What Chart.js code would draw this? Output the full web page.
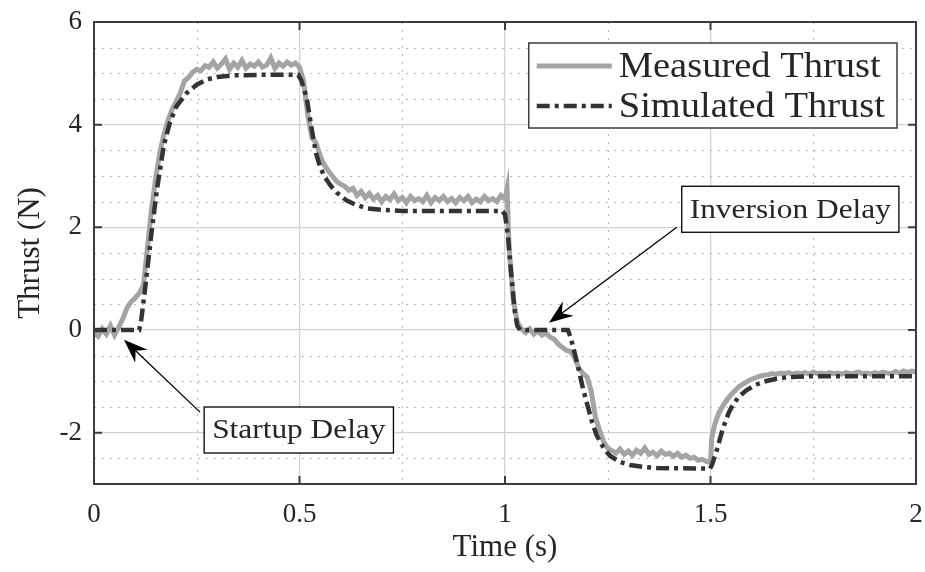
<!DOCTYPE html>
<html lang="en">
<head>
  <meta charset="UTF-8">
  <title>Thrust response</title>
  <script src="https://cdn.jsdelivr.net/npm/chart.js"></script>
  <style>
    html, body { margin: 0; padding: 0; background: #fff; }
    .chart-container { width: 925px; height: 572px; }
  </style>
</head>
<body>
  <div class="chart-container">
    <canvas id="chartCanvas" width="925" height="572"></canvas>
  </div>

  <script>
    // measured thrust (load cell), seconds / newtons
    const measTime = [
      0.00, 0.01, 0.02, 0.03, 0.04, 0.05, 0.06, 0.07, 0.08, 0.09,
      0.10, 0.11, 0.12, 0.13, 0.14, 0.15, 0.16, 0.17, 0.18, 0.19,
      0.20, 0.21, 0.22, 0.23, 0.24, 0.25, 0.26, 0.27, 0.28, 0.29,
      0.30, 0.31, 0.32, 0.33, 0.34, 0.35, 0.36, 0.37, 0.38, 0.39,
      0.40, 0.41, 0.42, 0.43, 0.44, 0.45, 0.46, 0.47, 0.48, 0.49,
      0.50, 0.51, 0.52, 0.53, 0.54, 0.55, 0.56, 0.57, 0.58, 0.59,
      0.60, 0.61, 0.62, 0.63, 0.64, 0.65, 0.66, 0.67, 0.68, 0.69,
      0.70, 0.71, 0.72, 0.73, 0.74, 0.75, 0.76, 0.77, 0.78, 0.79,
      0.80, 0.81, 0.82, 0.83, 0.84, 0.85, 0.86, 0.87, 0.88, 0.89,
      0.90, 0.91, 0.92, 0.93, 0.94, 0.95, 0.96, 0.97, 0.98, 0.99,
      1.00, 1.005, 1.01, 1.02, 1.03, 1.04, 1.05, 1.06, 1.07, 1.08, 1.09,
      1.10, 1.11, 1.12, 1.13, 1.14, 1.15, 1.16, 1.17, 1.18, 1.19,
      1.20, 1.21, 1.22, 1.23, 1.24, 1.25, 1.26, 1.27, 1.28, 1.29,
      1.30, 1.31, 1.32, 1.33, 1.34, 1.35, 1.36, 1.37, 1.38, 1.39,
      1.40, 1.41, 1.42, 1.43, 1.44, 1.45, 1.46, 1.47, 1.48, 1.49,
      1.50, 1.503, 1.51, 1.52, 1.53, 1.54, 1.55, 1.56, 1.57, 1.58, 1.59,
      1.60, 1.61, 1.62, 1.63, 1.64, 1.65, 1.66, 1.67, 1.68, 1.69,
      1.70, 1.71, 1.72, 1.73, 1.74, 1.75, 1.76, 1.77, 1.78, 1.79,
      1.80, 1.81, 1.82, 1.83, 1.84, 1.85, 1.86, 1.87, 1.88, 1.89,
      1.90, 1.91, 1.92, 1.93, 1.94, 1.95, 1.96, 1.97, 1.98, 1.99,
      2.00
    ];
    const measThrust = [
      -0.05, -0.12, 0.02, -0.08, 0.08, -0.10, 0.05, 0.22, 0.42, 0.55,
      0.62, 0.72, 0.86, 1.60, 2.35, 2.95, 3.45, 3.80, 4.08, 4.30,
      4.45, 4.62, 4.85, 4.92, 5.02, 5.08, 5.05, 5.15, 5.12, 5.22,
      5.10, 5.18, 5.28, 5.08, 5.20, 5.12, 5.25, 5.10, 5.18, 5.14,
      5.22, 5.12, 5.16, 5.30, 5.10, 5.20, 5.14, 5.22, 5.16, 5.20,
      5.12, 4.85, 4.20, 3.75, 3.65, 3.40, 3.22, 3.10, 3.00, 2.90,
      2.84, 2.80, 2.72, 2.76, 2.62, 2.70, 2.58, 2.66, 2.55, 2.62,
      2.50, 2.60, 2.54, 2.65, 2.52, 2.58, 2.48, 2.60, 2.52, 2.56,
      2.50, 2.62, 2.48, 2.58, 2.52, 2.60, 2.50, 2.56, 2.48, 2.58,
      2.52, 2.60, 2.48, 2.55, 2.50, 2.60, 2.52, 2.56, 2.50, 2.62,
      2.55, 2.75, 1.60, 0.60, 0.15, 0.02, -0.05, 0.02, -0.08, -0.02, -0.10,
      -0.06, -0.14, -0.18, -0.28, -0.34, -0.40, -0.42, -0.55, -0.75, -0.85,
      -0.92, -1.20, -1.70, -1.95, -2.18, -2.30, -2.35, -2.40, -2.32, -2.42,
      -2.36, -2.44, -2.34, -2.40, -2.30, -2.42, -2.38, -2.45, -2.36, -2.42,
      -2.40, -2.46, -2.40, -2.48, -2.44, -2.50, -2.48, -2.54, -2.52, -2.56,
      -2.58, -2.10, -1.85, -1.62, -1.48, -1.36, -1.26, -1.18, -1.10, -1.05, -1.00,
      -0.96, -0.93, -0.90, -0.88, -0.87, -0.85, -0.86, -0.84, -0.85, -0.83,
      -0.86, -0.84, -0.85, -0.83, -0.86, -0.82, -0.85, -0.84, -0.86, -0.83,
      -0.85, -0.84, -0.86, -0.83, -0.85, -0.84, -0.82, -0.85, -0.84, -0.86,
      -0.83, -0.85, -0.82, -0.84, -0.85, -0.81, -0.84, -0.80, -0.83, -0.80,
      -0.82
    ];

    // simulated thrust from the motor model
    const simTime = [
      0, 0.11, 0.115, 0.124, 0.14, 0.153, 0.17, 0.185, 0.2, 0.226,
      0.25, 0.275, 0.3, 0.34, 0.4, 0.497, 0.505, 0.518, 0.53, 0.54,
      0.55, 0.56, 0.574, 0.59, 0.615, 0.64, 0.664, 0.7, 0.75, 0.993,
      1.0, 1.007, 1.015, 1.024, 1.03, 1.037, 1.153, 1.16, 1.175, 1.19,
      1.2, 1.212, 1.223, 1.24, 1.255, 1.28, 1.304, 1.34, 1.37, 1.499,
      1.504, 1.516, 1.53, 1.545, 1.555, 1.57, 1.588, 1.61, 1.628, 1.66,
      1.686, 1.75, 2.0
    ];
    const simThrust = [
      0, 0, 0.2, 0.78, 1.9, 2.73, 3.6, 4.05, 4.35, 4.62,
      4.78, 4.88, 4.93, 4.96, 4.97, 4.97, 4.85, 4.5, 3.9, 3.45,
      3.18, 3.0, 2.83, 2.68, 2.52, 2.43, 2.37, 2.34, 2.32, 2.32,
      2.25, 1.85, 1.1, 0.35, 0.08, 0, 0, -0.15, -0.62, -1.15,
      -1.45, -1.8, -2.05, -2.3, -2.45, -2.57, -2.63, -2.67, -2.69, -2.7,
      -2.62, -2.32, -1.92, -1.6, -1.45, -1.29, -1.17, -1.07, -1.01, -0.95,
      -0.92, -0.9, -0.9
    ];

    const xTicks = [0, 0.5, 1, 1.5, 2];
    const yTicks = [-2, 0, 2, 4, 6];
    const xMinor = [0.25, 0.75, 1.25, 1.75];
    const yMinor = [-2.5, -1.5, -1, -0.5, 0.5, 1, 1.5, 2.5, 3, 3.5, 4.5, 5, 5.5];

    const seriesNames = ['Measured Thrust', 'Simulated Thrust'];

    // callouts: label, box top-left, arrow tail and tip (data units)
    const notes = [
      { text: 'Startup Delay', box: [0.268, -1.50], tail: [0.258, -1.60], tip: [0.073, -0.19] },
      { text: 'Inversion Delay', box: [1.430, 2.80], tail: [1.418, 2.00], tip: [1.107, 0.14] }
    ];

    const serif = "'Liberation Serif', 'Times New Roman', serif";
    const inkColor = '#262626';
    const axisColor = '#3c3c3c';

    Chart.defaults.font.family = serif;
    Chart.defaults.color = inkColor;

    const toXY = (xs, ys) => xs.map((x, i) => ({ x: x, y: ys[i] }));

    // text a little wider than the plain font, closer to the LaTeX look
    function wideText(ctx, text, x, y, sx) {
      ctx.save();
      ctx.translate(x, y);
      ctx.scale(sx, 1);
      ctx.fillText(text, 0, 0);
      ctx.restore();
      return ctx.measureText(text).width * sx;
    }

    function drawArrow(ctx, tail, tip) {
      const dx = tail[0] - tip[0], dy = tail[1] - tip[1];
      const len = Math.hypot(dx, dy);
      const ux = dx / len, uy = dy / len;
      const nx = -uy, ny = ux;
      const L = 24, W = 9, notch = 8;
      ctx.strokeStyle = '#000';
      ctx.lineWidth = 1.3;
      ctx.beginPath();
      ctx.moveTo(tail[0], tail[1]);
      ctx.lineTo(tip[0] + ux * (L - notch), tip[1] + uy * (L - notch));
      ctx.stroke();
      ctx.fillStyle = '#000';
      ctx.beginPath();
      ctx.moveTo(tip[0], tip[1]);
      ctx.lineTo(tip[0] + ux * L + nx * W, tip[1] + uy * L + ny * W);
      ctx.lineTo(tip[0] + ux * (L - notch), tip[1] + uy * (L - notch));
      ctx.lineTo(tip[0] + ux * L - nx * W, tip[1] + uy * L - ny * W);
      ctx.closePath();
      ctx.fill();
    }

    const axesDecor = {
      id: 'axesDecor',
      beforeDatasetsDraw(chart) {
        const { ctx, chartArea: a, scales: { x, y } } = chart;
        ctx.save();
        ctx.strokeStyle = '#b8b8b8';
        ctx.lineWidth = 1;
        ctx.setLineDash([2, 6]);
        xMinor.forEach(v => {
          const px = Math.round(x.getPixelForValue(v)) + 0.5;
          ctx.beginPath(); ctx.moveTo(px, a.top); ctx.lineTo(px, a.bottom); ctx.stroke();
        });
        yMinor.forEach(v => {
          const py = Math.round(y.getPixelForValue(v)) + 0.5;
          ctx.beginPath(); ctx.moveTo(a.left, py); ctx.lineTo(a.right, py); ctx.stroke();
        });
        ctx.restore();
      },
      afterDraw(chart) {
        const { ctx, chartArea: a, scales: { x, y } } = chart;
        ctx.save();

        // box and inward ticks
        ctx.strokeStyle = axisColor;
        ctx.lineWidth = 2;
        ctx.strokeRect(a.left, a.top, a.right - a.left, a.bottom - a.top);
        const tl = 8;
        ctx.beginPath();
        xTicks.forEach(v => {
          const px = x.getPixelForValue(v);
          ctx.moveTo(px, a.bottom); ctx.lineTo(px, a.bottom - tl);
          ctx.moveTo(px, a.top); ctx.lineTo(px, a.top + tl);
        });
        yTicks.forEach(v => {
          const py = y.getPixelForValue(v);
          ctx.moveTo(a.left, py); ctx.lineTo(a.left + tl, py);
          ctx.moveTo(a.right, py); ctx.lineTo(a.right - tl, py);
        });
        ctx.stroke();

        // callouts
        ctx.font = '28px ' + serif;
        ctx.textBaseline = 'middle';
        notes.forEach(n => {
          const bx = x.getPixelForValue(n.box[0]);
          const by = y.getPixelForValue(n.box[1]);
          const w = ctx.measureText(n.text).width * 1.12 + 16;
          const h = 46;
          drawArrow(ctx,
            [x.getPixelForValue(n.tail[0]), y.getPixelForValue(n.tail[1])],
            [x.getPixelForValue(n.tip[0]), y.getPixelForValue(n.tip[1])]);
          ctx.fillStyle = '#fff';
          ctx.fillRect(bx, by, w, h);
          ctx.strokeStyle = '#000';
          ctx.lineWidth = 1.3;
          ctx.strokeRect(bx, by, w, h);
          ctx.fillStyle = inkColor;
          wideText(ctx, n.text, bx + 8, by + h / 2 + 1, 1.12);
        });

        // legend, top right inside the axes
        ctx.font = '35px ' + serif;
        const sx = 1.1;
        const textW = Math.max(...seriesNames.map(s => ctx.measureText(s).width)) * sx;
        const lw = 8 + 75 + 7 + textW + 12;
        const lh = 85;
        const lx = a.right - 19 - lw;
        const ly = a.top + 21;
        ctx.fillStyle = '#fff';
        ctx.fillRect(lx, ly, lw, lh);
        ctx.strokeStyle = axisColor;
        ctx.lineWidth = 1.5;
        ctx.strokeRect(lx, ly, lw, lh);
        chart.data.datasets.forEach((ds, i) => {
          const cy = ly + 23 + i * 40;
          ctx.save();
          ctx.strokeStyle = ds.borderColor;
          ctx.lineWidth = ds.borderWidth;
          ctx.setLineDash(ds.borderDash || []);
          ctx.beginPath();
          ctx.moveTo(lx + 8, cy); ctx.lineTo(lx + 83, cy);
          ctx.stroke();
          ctx.restore();
          ctx.fillStyle = inkColor;
          wideText(ctx, ds.label, lx + 90, cy + 2, sx);
        });
        ctx.restore();
      }
    };

    const tickFont = { family: serif, size: 27 };
    const titleFont = { family: serif, size: 31 };

    const ctx = document.getElementById('chartCanvas').getContext('2d');
    const chart = new Chart(ctx, {
      type: 'line',
      data: {
        datasets: [{
          label: seriesNames[0],
          data: toXY(measTime, measThrust),
          borderColor: '#a4a4a4',
          borderWidth: 5,
          pointRadius: 0,
          tension: 0,
          fill: false,
          order: 1
        }, {
          label: seriesNames[1],
          data: toXY(simTime, simThrust),
          borderColor: '#333333',
          borderWidth: 4.5,
          borderDash: [13, 5, 4, 5],
          borderCapStyle: 'butt',
          pointRadius: 0,
          tension: 0,
          fill: false,
          order: 0
        }]
      },
      plugins: [axesDecor],
      options: {
        responsive: false,
        devicePixelRatio: 1,
        animation: false,
        layout: { padding: { top: 22, right: 9, left: 0, bottom: 0 } },
        plugins: { legend: { display: false }, tooltip: { enabled: false } },
        scales: {
          x: {
            type: 'linear',
            min: 0,
            max: 2,
            afterBuildTicks: s => { s.ticks = xTicks.map(v => ({ value: v })); },
            afterFit: s => { s.height = 88; s.paddingLeft = 0; s.paddingRight = 0; },
            ticks: { font: tickFont, color: inkColor, padding: 15, maxRotation: 0, callback: v => String(v) },
            grid: { color: '#d2d2d2', lineWidth: 1.3, drawTicks: false },
            border: { display: false },
            title: { display: true, text: 'Time (s)', font: titleFont, color: inkColor, padding: { top: 0, bottom: 6 } }
          },
          y: {
            type: 'linear',
            min: -3,
            max: 6,
            afterBuildTicks: s => { s.ticks = yTicks.map(v => ({ value: v })); },
            afterFit: s => { s.width = 94; s.paddingTop = 0; s.paddingBottom = 0; },
            ticks: { font: tickFont, color: inkColor, padding: 12, callback: v => String(v) },
            grid: { color: '#d2d2d2', lineWidth: 1.3, drawTicks: false },
            border: { display: false },
            title: { display: true, text: 'Thrust (N)', font: titleFont, color: inkColor, padding: { top: 12, bottom: 0 } }
          }
        }
      }
    });
  </script>
</body>
</html>
